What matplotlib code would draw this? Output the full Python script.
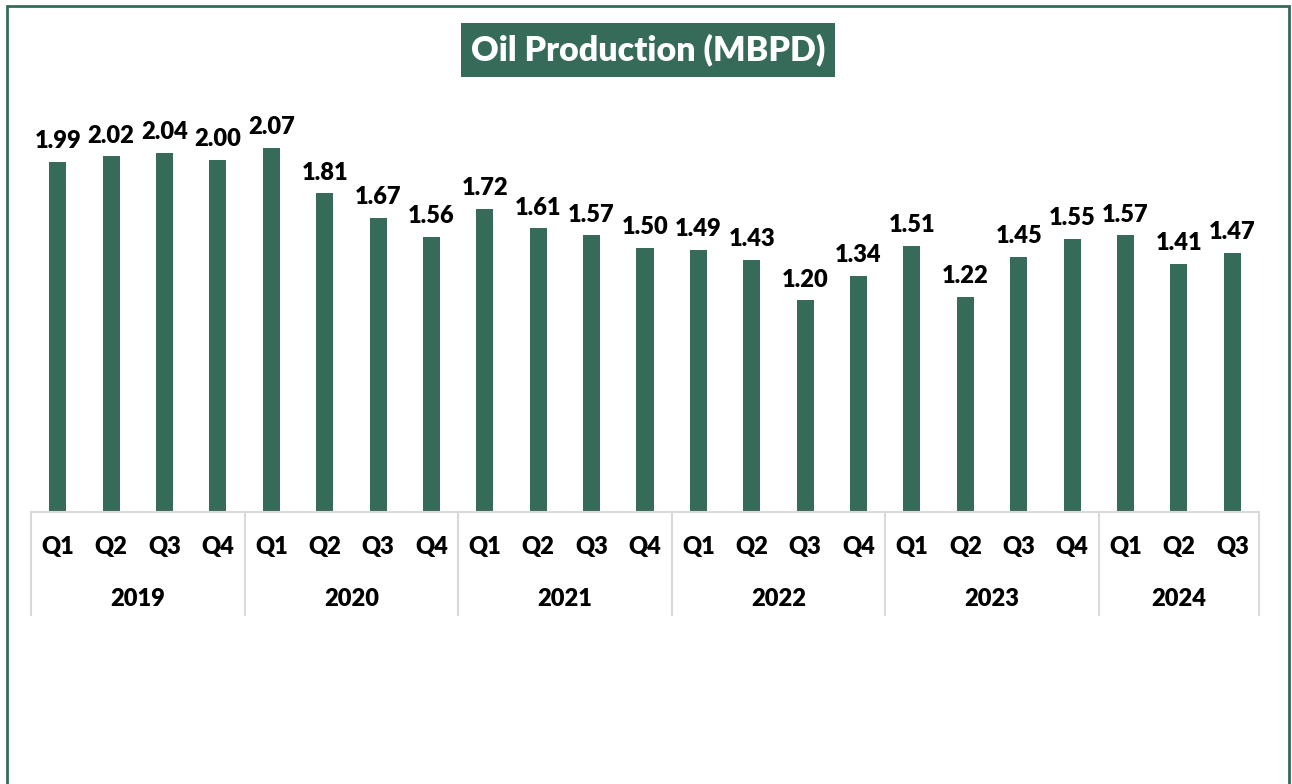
import numpy as np
import matplotlib.pyplot as plt
from matplotlib.transforms import blended_transform_factory
from matplotlib.patches import Rectangle

years = ["2019", "2020", "2021", "2022", "2023", "2024"]
quarters_per_year = [4, 4, 4, 4, 4, 3]
quarters = ["Q1", "Q2", "Q3", "Q4"] * 5 + ["Q1", "Q2", "Q3"]
production = [1.99, 2.02, 2.04, 2.00,
              2.07, 1.81, 1.67, 1.56,
              1.72, 1.61, 1.57, 1.50,
              1.49, 1.43, 1.20, 1.34,
              1.51, 1.22, 1.45, 1.55,
              1.57, 1.41, 1.47]

green = "#366a59"
grid_grey = "#d9d9d9"
plt.rcParams['font.family'] = ['Lato', 'DejaVu Sans']

W, H = 1292, 784
fig = plt.figure(figsize=(W / 100, H / 100), dpi=100)

# cadre vert autour de la figure
fig.patches.append(Rectangle((7 / W, -0.01), 1282 / W, 1 - 6 / H + 0.01,
                             transform=fig.transFigure, fill=False,
                             edgecolor=green, linewidth=2))

ymax = 2.5
ax = fig.add_axes([31 / W, (H - 511) / H, 1228 / W, ymax * 175.5 / H])
x = np.arange(len(production))
ax.bar(x, production, width=0.32, color=green)
ax.set_xlim(-0.5, len(production) - 0.5)
ax.set_ylim(0, ymax)
ax.axis('off')

for xi, v in zip(x, production):
    ax.annotate(f"{v:.2f}", (xi, v), xytext=(0, 7), textcoords='offset points',
                ha='center', va='bottom', fontsize=17, fontweight='heavy')

# axe des catégories à deux niveaux
tr = blended_transform_factory(ax.transData, fig.transFigure)
def fy(py):
    return 1 - py / H

ax.plot([-0.5, len(production) - 0.5], [fy(512), fy(512)], color=grid_grey,
        lw=1.5, transform=tr, clip_on=False)
for xi, q in zip(x, quarters):
    ax.text(xi, fy(547), q, transform=tr, ha='center', va='center',
            fontsize=17, fontweight='heavy')

start = -0.5
bounds = [start]
for yr, n in zip(years, quarters_per_year):
    ax.text(start + n / 2, fy(599), yr, transform=tr, ha='center', va='center',
            fontsize=17, fontweight='heavy')
    start += n
    bounds.append(start)
for b in bounds:
    ax.plot([b, b], [fy(512), fy(615)], color=grid_grey, lw=1.5,
            transform=tr, clip_on=False)

fig.text(648 / W, fy(50), "Oil Production (MBPD)", ha='center', va='center',
         fontsize=24.5, fontweight='heavy', color='white',
         bbox=dict(boxstyle='square,pad=0.3', facecolor=green, edgecolor='none'))

fig.savefig("out.png", dpi=100)
